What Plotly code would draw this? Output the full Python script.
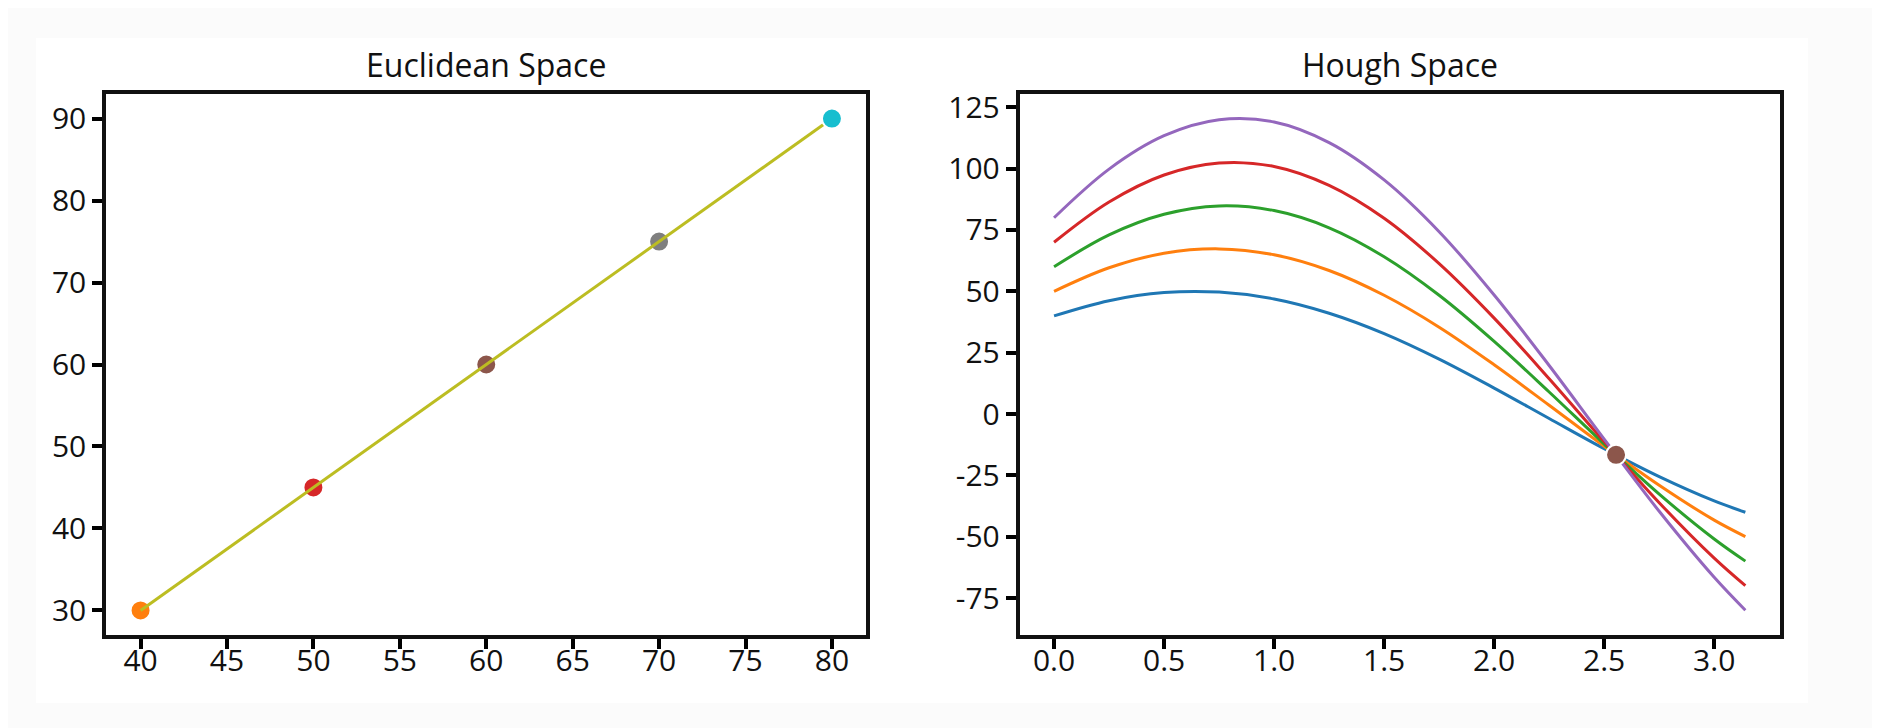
import plotly.graph_objects as go
from plotly.subplots import make_subplots

# Euclidean space: the five points and the line through them
euclid_x = [40, 50, 60, 70, 80]
euclid_y = [30, 45, 60, 75, 90]
point_colors = ['#ff7f0e', '#d62728', '#8c564b', '#7f7f7f', '#17becf']
line_color = '#bcbd22'

# Hough space: rho(theta) for each point
theta = [0.0, 0.25, 0.5, 0.75, 1.0, 1.25, 1.5, 1.75, 2.0, 2.25, 2.5, 2.75, 3.0, 3.1416]
rho_40_30 = [40.0, 46.2, 49.5, 49.7, 46.9, 41.1, 32.8, 22.4, 10.6, -1.8, -14.1, -25.5, -35.4, -40.0]
rho_50_45 = [50.0, 59.6, 65.5, 67.3, 64.9, 58.5, 48.4, 35.4, 20.1, 3.6, -13.1, -29.0, -43.2, -49.9]
rho_60_60 = [60.0, 73.0, 81.4, 84.8, 82.9, 75.9, 64.1, 48.4, 29.6, 9.0, -12.2, -32.6, -50.9, -59.9]
rho_70_75 = [70.0, 86.4, 97.4, 102.3, 100.9, 93.2, 79.8, 61.3, 39.1, 14.4, -11.2, -36.1, -58.7, -69.9]
rho_80_90 = [80.0, 99.8, 113.4, 119.9, 119.0, 110.6, 95.4, 74.3, 48.5, 19.8, -10.2, -39.6, -66.5, -79.9]
hough_curves = [rho_40_30, rho_50_45, rho_60_60, rho_70_75, rho_80_90]
curve_colors = ['#1f77b4', '#ff7f0e', '#2ca02c', '#d62728', '#9467bd']

# common intersection of all curves
peak_theta = [2.554]
peak_rho = [-16.6]
peak_color = '#8c564b'

euclid_xticks = [40, 45, 50, 55, 60, 65, 70, 75, 80]
hough_yticks = [-75, -50, -25, 0, 25, 50, 75, 100, 125]
hough_yticktext = ['-75', '-50', '-25', '0', '25', '50', '75', '100', '125']

FONT = 'Open Sans'

fig = make_subplots(rows=1, cols=2, horizontal_spacing=0.0914)

# points under the fitted line, last point on top
for i in range(4):
    fig.add_trace(go.Scatter(
        x=[euclid_x[i]], y=[euclid_y[i]], mode='markers',
        marker=dict(size=20, color=point_colors[i], line=dict(color='white', width=2)),
        showlegend=False), row=1, col=1)
fig.add_trace(go.Scatter(
    x=euclid_x, y=euclid_y, mode='lines',
    line=dict(color=line_color, width=3), showlegend=False), row=1, col=1)
fig.add_trace(go.Scatter(
    x=[euclid_x[4]], y=[euclid_y[4]], mode='markers',
    marker=dict(size=20, color=point_colors[4], line=dict(color='white', width=2)),
    showlegend=False), row=1, col=1)

for rho, color in zip(hough_curves, curve_colors):
    fig.add_trace(go.Scatter(
        x=theta, y=rho, mode='lines',
        line=dict(color=color, width=3, shape='spline', smoothing=1.0),
        showlegend=False), row=1, col=2)
fig.add_trace(go.Scatter(
    x=peak_theta, y=peak_rho, mode='markers',
    marker=dict(size=20, color=peak_color, line=dict(color='white', width=2)),
    showlegend=False), row=1, col=2)

axis_style = dict(
    showline=True, mirror=True, linecolor='#111111', linewidth=3.5,
    ticks='outside', ticklen=10, tickwidth=4, tickcolor='black',
    showgrid=False, zeroline=False,
    tickfont=dict(family=FONT, size=30, color='#111111'),
)
fig.update_xaxes(**axis_style, ticklabelstandoff=-14)
fig.update_yaxes(**axis_style)

fig.update_xaxes(range=[38, 82], tickvals=euclid_xticks, row=1, col=1)
fig.update_yaxes(range=[27, 93], dtick=10, row=1, col=1)
fig.update_xaxes(range=[-0.157, 3.299], dtick=0.5, tickformat='.1f', row=1, col=2)
fig.update_yaxes(range=[-90, 130.4], tickvals=hough_yticks, ticktext=hough_yticktext, row=1, col=2)

for xref, yref, text in [('x domain', 'y domain', 'Euclidean Space'),
                         ('x2 domain', 'y2 domain', 'Hough Space')]:
    fig.add_annotation(
        xref=xref, yref=yref, x=0.5, y=1, yanchor='bottom', yshift=6,
        text=text, showarrow=False, font=dict(family=FONT, size=32, color='#111111'))

# white card on a faint grey page
fig.add_shape(type='rect', xref='paper', yref='paper',
              x0=-0.0418, x1=1.0167, y0=-0.1257, y1=1.1035,
              fillcolor='white', line=dict(width=0), layer='below')

fig.update_layout(
    width=1880, height=728,
    margin=dict(l=98, r=108, t=86, b=101),
    paper_bgcolor='#fbfbfb',
    plot_bgcolor='white',
    font=dict(family=FONT, color='#111111'),
)

fig.write_html("out.html")
